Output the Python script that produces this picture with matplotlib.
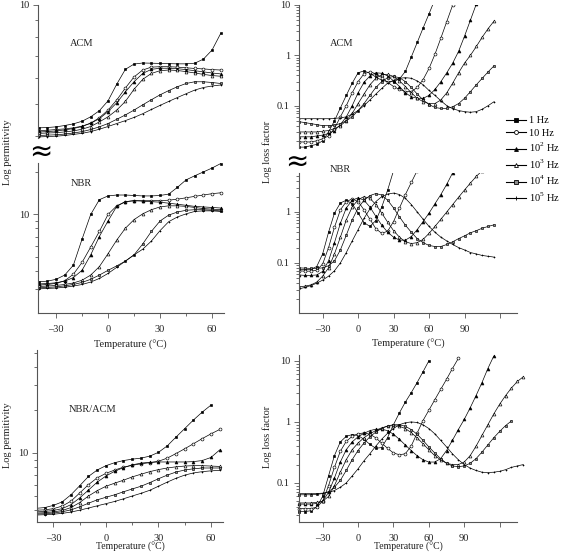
import matplotlib.pyplot as plt
from matplotlib.lines import Line2D
from matplotlib.ticker import FixedLocator, LogLocator, NullFormatter

plt.rcParams['font.family'] = ['Liberation Serif', 'DejaVu Serif']
plt.rcParams['mathtext.fontset'] = 'custom'
plt.rcParams['mathtext.rm'] = 'Liberation Serif'

# ---- data ----
freqs = ['1 Hz', '10 Hz', r'10$^{\mathregular{2}}$ Hz', r'10$^{\mathregular{3}}$ Hz',
         r'10$^{\mathregular{4}}$ Hz', r'10$^{\mathregular{5}}$ Hz']

# permittivity panels: temperature every 5 degC from -40 to 65
T_perm = [-40, -35, -30, -25, -20, -15, -10, -5, 0, 5, 10, 15, 20, 25, 30, 35, 40, 45, 50, 55, 60, 65]

acm_perm = [
    [4.24, 4.25, 4.27, 4.31, 4.36, 4.44, 4.58, 4.78, 5.12, 5.75, 6.38, 6.62, 6.67, 6.66, 6.65, 6.64, 6.63, 6.63, 6.66, 6.85, 7.3, 8.2],
    [4.12, 4.13, 4.15, 4.18, 4.22, 4.28, 4.38, 4.55, 4.8, 5.15, 5.6, 6.05, 6.35, 6.48, 6.5, 6.5, 6.48, 6.45, 6.42, 6.4, 6.37, 6.35],
    [4.16, 4.17, 4.19, 4.21, 4.24, 4.29, 4.38, 4.52, 4.75, 5.05, 5.45, 5.85, 6.2, 6.38, 6.43, 6.43, 6.41, 6.37, 6.32, 6.27, 6.22, 6.18],
    [4.08, 4.09, 4.1, 4.12, 4.15, 4.2, 4.28, 4.42, 4.58, 4.8, 5.1, 5.55, 5.95, 6.2, 6.32, 6.35, 6.33, 6.28, 6.22, 6.16, 6.11, 6.08],
    [4.02, 4.03, 4.04, 4.06, 4.09, 4.13, 4.19, 4.27, 4.37, 4.5, 4.64, 4.8, 4.98, 5.16, 5.34, 5.5, 5.65, 5.78, 5.85, 5.85, 5.82, 5.78],
    [3.98, 3.99, 4.0, 4.02, 4.05, 4.08, 4.13, 4.2, 4.28, 4.37, 4.46, 4.56, 4.68, 4.82, 4.96, 5.1, 5.24, 5.38, 5.52, 5.62, 5.68, 5.72],
]
nbr_perm = [
    [3.36, 3.4, 3.5, 3.75, 4.4, 6.7, 10.0, 12.7, 13.5, 13.7, 13.7, 13.6, 13.5, 13.5, 13.6, 13.9, 15.5, 17.5, 18.7, 19.9, 21.2, 22.8],
    [3.19, 3.22, 3.28, 3.42, 3.8, 4.6, 5.9, 7.6, 10.0, 11.5, 12.3, 12.5, 12.5, 12.5, 12.5, 12.6, 12.8, 13.1, 13.4, 13.7, 14.0, 14.2],
    [3.25, 3.27, 3.31, 3.4, 3.6, 4.05, 5.2, 7.0, 9.0, 11.4, 12.3, 12.5, 12.4, 12.3, 12.2, 12.0, 11.8, 11.6, 11.4, 11.3, 11.2, 11.1],
    [3.12, 3.14, 3.17, 3.22, 3.3, 3.45, 3.75, 4.3, 5.3, 6.6, 8.0, 9.2, 10.1, 10.8, 11.3, 11.5, 11.5, 11.4, 11.2, 11.0, 10.9, 10.8],
    [3.05, 3.07, 3.1, 3.15, 3.22, 3.33, 3.5, 3.75, 4.05, 4.35, 4.7, 5.2, 6.2, 7.6, 9.0, 9.9, 10.4, 10.7, 10.8, 10.8, 10.7, 10.6],
    [3.0, 3.02, 3.04, 3.08, 3.14, 3.22, 3.35, 3.55, 3.85, 4.25, 4.7, 5.2, 5.7, 6.5, 7.7, 8.9, 9.6, 10.1, 10.5, 10.6, 10.6, 10.5],
]
blend_perm = [
    [4.1, 4.15, 4.3, 4.55, 5.1, 5.9, 6.85, 7.6, 8.15, 8.55, 8.85, 9.05, 9.2, 9.5, 10.1, 11.2, 12.9, 14.8, 17.0, 19.3, 21.6],
    [3.98, 4.0, 4.08, 4.25, 4.6, 5.25, 6.0, 6.7, 7.2, 7.6, 7.95, 8.2, 8.4, 8.55, 8.75, 9.2, 9.9, 10.7, 11.6, 12.6, 13.6, 14.6],
    [3.87, 3.9, 3.96, 4.08, 4.35, 4.85, 5.5, 6.25, 6.9, 7.45, 7.9, 8.25, 8.5, 8.6, 8.65, 8.65, 8.65, 8.65, 8.7, 8.85, 9.3, 10.5],
    [3.8, 3.82, 3.87, 3.96, 4.15, 4.5, 5.0, 5.45, 5.85, 6.15, 6.45, 6.8, 7.1, 7.4, 7.65, 7.85, 8.0, 8.1, 8.15, 8.15, 8.1, 8.05],
    [3.74, 3.76, 3.8, 3.88, 4.0, 4.2, 4.45, 4.7, 4.9, 5.1, 5.35, 5.6, 5.85, 6.2, 6.6, 7.0, 7.35, 7.6, 7.75, 7.85, 7.85, 7.85],
    [3.68, 3.7, 3.73, 3.78, 3.86, 3.98, 4.12, 4.27, 4.42, 4.58, 4.78, 5.0, 5.22, 5.48, 5.85, 6.25, 6.65, 7.0, 7.25, 7.4, 7.5, 7.55],
]

# loss factor panels: temperature every 5 degC from -50
T_loss = [-50, -45, -40, -35, -30, -25, -20, -15, -10, -5, 0, 5, 10, 15, 20, 25, 30, 35, 40, 45,
          50, 55, 60, 65, 70, 75, 80, 85, 90, 95, 100, 105, 110, 115, 120, 125, 130, 135, 140]

acm_loss = [
    [0.015, 0.015, 0.016, 0.017, 0.02, 0.03, 0.05, 0.09, 0.16, 0.28, 0.45, 0.49, 0.44, 0.37, 0.32, 0.3, 0.3, 0.34, 0.48, 0.93, 1.8, 3.5, 6.7, 13.0],
    [0.019, 0.019, 0.019, 0.02, 0.022, 0.025, 0.035, 0.06, 0.1, 0.18, 0.3, 0.43, 0.47, 0.43, 0.36, 0.29, 0.24, 0.21, 0.19, 0.19, 0.23, 0.33, 0.55, 1.05, 2.2, 4.7, 10.0, 20.0],
    [0.024, 0.024, 0.024, 0.025, 0.026, 0.028, 0.032, 0.042, 0.06, 0.1, 0.18, 0.29, 0.39, 0.45, 0.44, 0.39, 0.31, 0.24, 0.18, 0.15, 0.14, 0.14, 0.16, 0.21, 0.3, 0.45, 0.7, 1.2, 2.4, 5.0, 10.5],
    [0.03, 0.03, 0.03, 0.03, 0.031, 0.032, 0.035, 0.04, 0.05, 0.07, 0.11, 0.17, 0.26, 0.35, 0.41, 0.42, 0.38, 0.31, 0.24, 0.18, 0.14, 0.12, 0.11, 0.11, 0.13, 0.18, 0.28, 0.45, 0.7, 1.0, 1.5, 2.3, 3.4, 4.8],
    [0.048, 0.046, 0.044, 0.042, 0.04, 0.04, 0.041, 0.044, 0.05, 0.06, 0.08, 0.11, 0.16, 0.23, 0.3, 0.36, 0.38, 0.36, 0.3, 0.23, 0.17, 0.13, 0.105, 0.092, 0.088, 0.088, 0.095, 0.11, 0.14, 0.19, 0.26, 0.35, 0.47, 0.62],
    [0.055, 0.055, 0.055, 0.055, 0.055, 0.055, 0.056, 0.057, 0.06, 0.068, 0.08, 0.1, 0.13, 0.17, 0.22, 0.28, 0.32, 0.35, 0.36, 0.35, 0.31, 0.26, 0.2, 0.16, 0.125, 0.1, 0.087, 0.08, 0.076, 0.074, 0.076, 0.085, 0.1, 0.12],
]
nbr_loss = [
    [0.075, 0.074, 0.075, 0.085, 0.15, 0.4, 0.95, 1.5, 1.7, 1.45, 0.95, 0.62, 0.52, 0.68, 1.25, 2.7, 6.5],
    [0.07, 0.069, 0.069, 0.072, 0.095, 0.2, 0.5, 1.1, 1.6, 1.8, 1.6, 1.1, 0.72, 0.47, 0.38, 0.42, 0.65, 1.2, 2.2, 3.8, 6.5],
    [0.058, 0.057, 0.057, 0.058, 0.068, 0.11, 0.25, 0.6, 1.2, 1.7, 1.9, 1.7, 1.25, 0.82, 0.55, 0.4, 0.32, 0.28, 0.28, 0.33, 0.45, 0.65, 0.95, 1.45, 2.2, 3.5, 5.9],
    [0.034, 0.035, 0.037, 0.042, 0.055, 0.08, 0.15, 0.32, 0.7, 1.25, 1.75, 2.0, 1.85, 1.4, 0.95, 0.63, 0.43, 0.32, 0.26, 0.24, 0.25, 0.29, 0.38, 0.52, 0.72, 1.0, 1.4, 1.95, 2.7, 3.7, 5.0, 6.5],
    [0.08, 0.079, 0.078, 0.078, 0.08, 0.088, 0.11, 0.18, 0.35, 0.7, 1.2, 1.7, 2.1, 2.3, 2.15, 1.7, 1.2, 0.8, 0.55, 0.4, 0.3, 0.25, 0.22, 0.21, 0.21, 0.23, 0.26, 0.3, 0.34, 0.39, 0.43, 0.48, 0.52, 0.56],
    [0.031, 0.033, 0.036, 0.04, 0.046, 0.055, 0.07, 0.1, 0.16, 0.27, 0.45, 0.75, 1.15, 1.6, 2.0, 2.25, 2.35, 2.2, 1.85, 1.4, 1.0, 0.72, 0.52, 0.4, 0.32, 0.27, 0.23, 0.2, 0.18, 0.16, 0.15, 0.14, 0.135, 0.13],
]
blend_loss = [
    [0.034, 0.034, 0.035, 0.04, 0.06, 0.13, 0.28, 0.47, 0.58, 0.62, 0.6, 0.52, 0.43, 0.37, 0.38, 0.55, 0.9, 1.4, 2.1, 3.0, 4.4, 6.6, 10.0],
    [0.038, 0.038, 0.038, 0.04, 0.05, 0.09, 0.18, 0.33, 0.48, 0.58, 0.64, 0.66, 0.63, 0.55, 0.45, 0.37, 0.31, 0.29, 0.3, 0.4, 0.65, 1.05, 1.55, 2.3, 3.4, 5.0, 7.5, 11.0],
    [0.045, 0.045, 0.045, 0.046, 0.05, 0.07, 0.12, 0.22, 0.35, 0.47, 0.57, 0.65, 0.72, 0.76, 0.76, 0.72, 0.63, 0.52, 0.42, 0.34, 0.28, 0.24, 0.22, 0.22, 0.25, 0.34, 0.5, 0.75, 1.1, 1.7, 2.7, 4.4, 7.5, 12.0],
    [0.047, 0.047, 0.047, 0.048, 0.05, 0.06, 0.09, 0.15, 0.24, 0.35, 0.45, 0.55, 0.64, 0.72, 0.8, 0.85, 0.87, 0.85, 0.78, 0.67, 0.55, 0.44, 0.35, 0.28, 0.24, 0.21, 0.2, 0.2, 0.22, 0.28, 0.4, 0.6, 0.9, 1.35, 1.95, 2.7, 3.6, 4.6, 5.5],
    [0.064, 0.064, 0.064, 0.065, 0.067, 0.072, 0.085, 0.11, 0.16, 0.24, 0.34, 0.45, 0.57, 0.68, 0.78, 0.86, 0.9, 0.9, 0.85, 0.75, 0.63, 0.5, 0.39, 0.31, 0.25, 0.21, 0.19, 0.185, 0.19, 0.21, 0.25, 0.32, 0.42, 0.55, 0.7, 0.87, 1.04],
    [0.067, 0.067, 0.067, 0.067, 0.068, 0.07, 0.075, 0.085, 0.1, 0.13, 0.17, 0.23, 0.3, 0.4, 0.52, 0.65, 0.78, 0.9, 0.97, 1.0, 0.98, 0.9, 0.78, 0.64, 0.5, 0.39, 0.3, 0.24, 0.2, 0.175, 0.16, 0.15, 0.148, 0.15, 0.155, 0.165, 0.18, 0.19, 0.2],
]

styles = [
    dict(marker='s', mfc='k'),
    dict(marker='o', mfc='white'),
    dict(marker='^', mfc='k'),
    dict(marker='^', mfc='white'),
    dict(marker='s', mfc='0.55'),
    dict(marker='+', mfc='k'),
]

W, H = 567, 553
fig = plt.figure(figsize=(W / 100, H / 100), dpi=100)
INK = '#222222'


def px_axes(x0, y0, x1, y1):
    return fig.add_axes([x0 / W, 1 - y1 / H, (x1 - x0) / W, (y1 - y0) / H])


def ftext(x, y, s, **kw):
    fig.text(x / W, 1 - y / H, s, color=INK, **kw)


def draw(ax, T, series):
    for vals, st in zip(series, styles):
        ax.plot(T[:len(vals)], vals, color='k', lw=0.5, ms=2.1, mec='k', mew=0.45, **st)


def style_ax(ax, xlim, ylim, yticks, ylabels, bottom=True, right_side=False):
    ax.set_yscale('log')
    ax.set_xlim(*xlim)
    ax.set_ylim(*ylim)
    for s in ['top', 'right']:
        ax.spines[s].set_visible(False)
    for s in ['left', 'bottom']:
        ax.spines[s].set_color('#555555')
        ax.spines[s].set_linewidth(0.8)
    ax.yaxis.set_major_locator(FixedLocator(yticks))
    ax.set_yticklabels(ylabels)
    ax.yaxis.set_minor_locator(LogLocator(base=10, subs=(2, 3, 4, 5, 6, 7, 8, 9), numticks=20))
    ax.yaxis.set_minor_formatter(NullFormatter())
    ax.tick_params(which='both', colors='#555555', labelcolor=INK, labelsize=7.5, width=0.6)
    ax.tick_params(which='major', length=3.5, pad=3)
    ax.tick_params(which='minor', length=2)
    if right_side:
        ax.set_xticks([-30, 0, 30, 60, 90, 120], ['\u201330', '0', '30', '60', '90', ''])
    else:
        ax.set_xticks([-30, 0, 30, 60], ['\u201330', '0', '30', '60'])
        ax.set_xticks([-15, 15, 45], minor=True)
    if not bottom:
        ax.spines['bottom'].set_visible(False)
        ax.tick_params(which='both', bottom=False, labelbottom=False)
    else:
        ax.tick_params(axis='x', which='major', pad=5)


# ---- left column: permittivity ----
ax1 = px_axes(38, 5, 224, 138)
draw(ax1, T_perm, acm_perm)
style_ax(ax1, (-40.4, 66.9), (3.95, 10), [10], ['10'], bottom=False)

ax2 = px_axes(38, 163, 224, 313)
draw(ax2, T_perm, nbr_perm)
style_ax(ax2, (-40.4, 66.9), (2.03, 23.0), [10], ['10'])

ax3 = px_axes(37, 350, 223, 522)
draw(ax3, T_perm, blend_perm)
style_ax(ax3, (-39.4, 66.9), (3.29, 52.5), [10], ['10'])

# ---- right column: loss factor ----
ax4 = px_axes(299, 5, 517, 148)
draw(ax4, T_loss, acm_loss)
style_ax(ax4, (-50, 134.4), (0.0144, 10), [0.1, 1, 10], ['0.1', '1', '10'], bottom=False, right_side=True)

ax5 = px_axes(299, 173, 517, 313)
draw(ax5, T_loss, nbr_loss)
style_ax(ax5, (-50, 134.4), (0.0104, 5.82), [0.1, 1], ['0.1', '1'], right_side=True)

ax6 = px_axes(299, 355, 517, 522)
draw(ax6, T_loss, blend_loss)
style_ax(ax6, (-50, 134.7), (0.0229, 12.5), [0.1, 1, 10], ['0.1', '1', '10'], right_side=True)
for ln in ax6.get_lines():
    ln.set_clip_on(False)

# ---- labels ----
fs = 7.5
ftext(82, 43, 'ACM', fontsize=fs, ha='center', va='center')
ftext(81, 183, 'NBR', fontsize=fs, ha='center', va='center')
ftext(93, 410, 'NBR/ACM', fontsize=fs, ha='center', va='center')
ftext(342, 43, 'ACM', fontsize=fs, ha='center', va='center')
ftext(340, 169, 'NBR', fontsize=fs, ha='center', va='center')

ftext(8, 152, 'Log permitivity', fontsize=fs, rotation=90, ha='center', va='center')
ftext(8, 435, 'Log permitivity', fontsize=fs, rotation=90, ha='center', va='center')
ftext(267, 152, 'Log loss factor', fontsize=fs, rotation=90, ha='center', va='center')
ftext(267, 437, 'Log loss factor', fontsize=fs, rotation=90, ha='center', va='center')

ftext(130, 345, 'Temperature (\u00b0C)', fontsize=fs, ha='center', va='center')
ftext(408, 344, 'Temperature (\u00b0C)', fontsize=fs, ha='center', va='center')
ftext(130, 552, 'Temperature (\u00b0C)', fontsize=7, ha='center', va='bottom')
ftext(408, 552, 'Temperature (\u00b0C)', fontsize=7, ha='center', va='bottom')

# axis break marks
fig.text(41 / W, 1 - 152 / H, '\u2248', fontsize=20, ha='center', va='center', family='DejaVu Sans')
fig.text(297 / W, 1 - 162 / H, '\u2248', fontsize=20, ha='center', va='center', family='DejaVu Sans')

# ---- legend ----
handles = [Line2D([], [], color='k', lw=0.8, ms=2.8, mec='k', mew=0.6, **st) for st in styles]
fig.legend(handles, freqs, loc='upper left', bbox_to_anchor=(506 / W, 1 - 116 / H),
           frameon=False, fontsize=fs, handlelength=1.9, handletextpad=0.35,
           labelspacing=0.32, borderpad=0, borderaxespad=0)

fig.savefig('out.png', dpi=100)
